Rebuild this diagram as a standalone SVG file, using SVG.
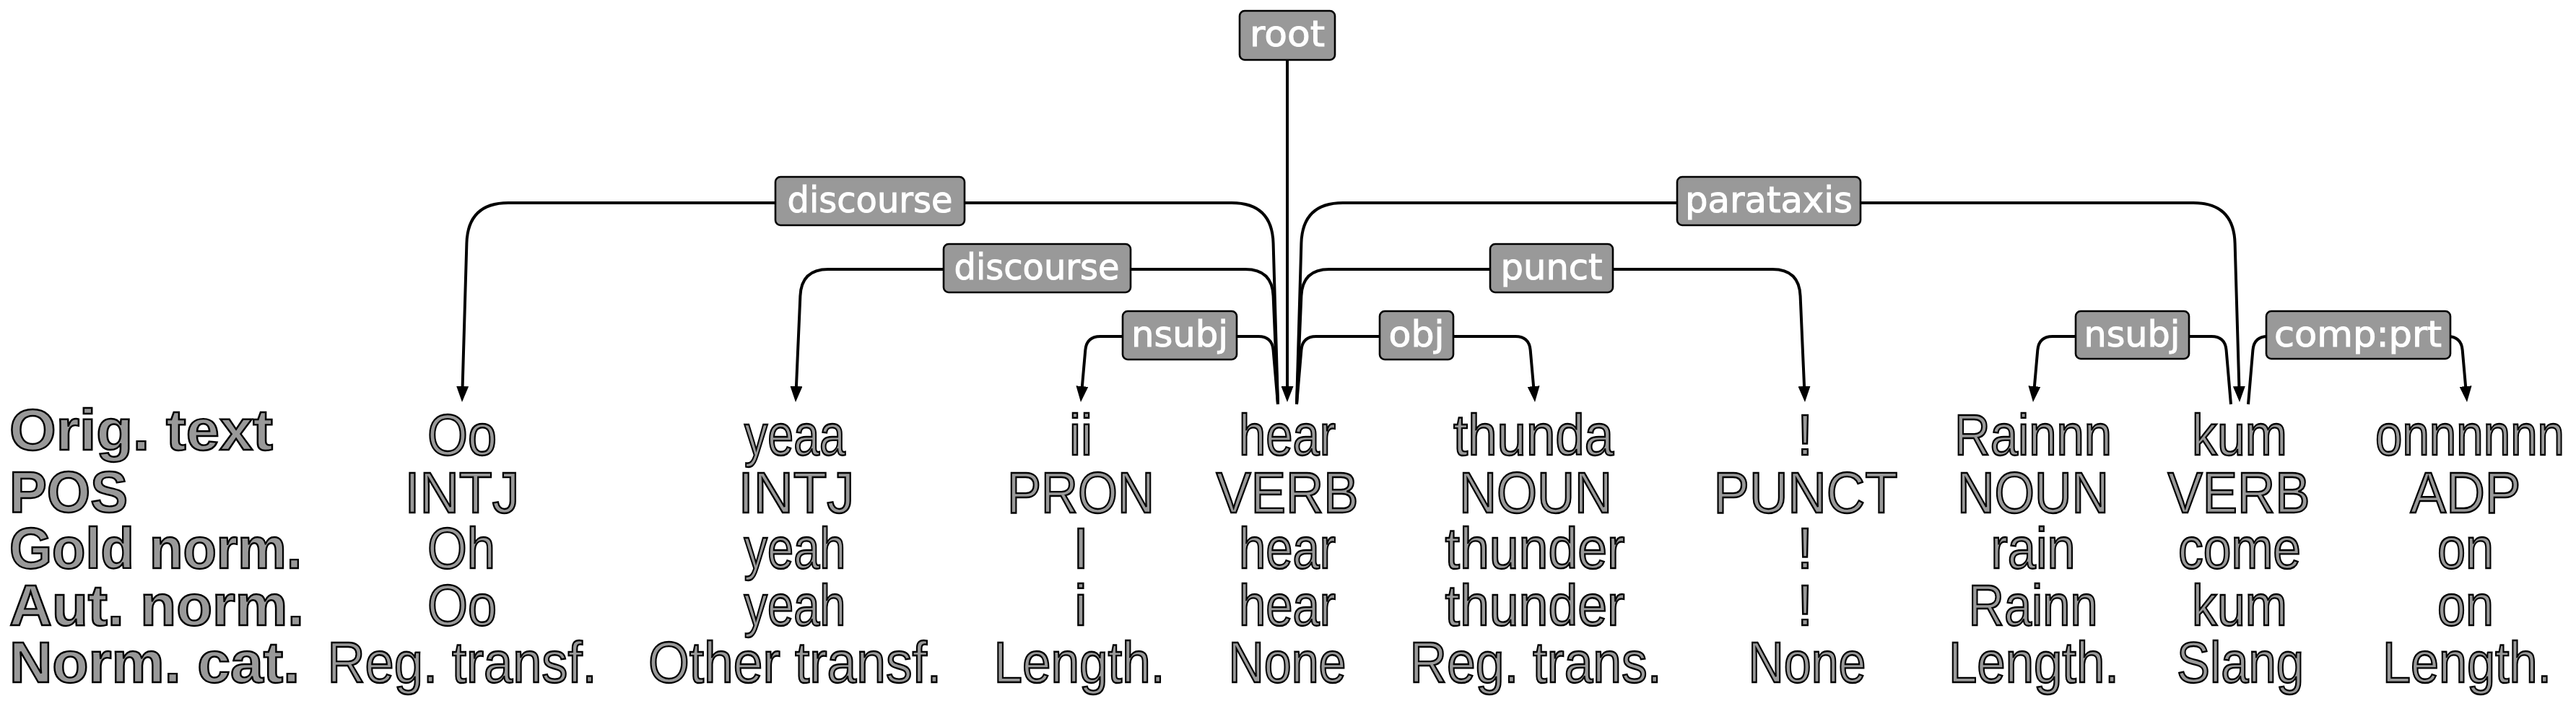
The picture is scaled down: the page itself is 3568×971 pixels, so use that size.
<svg xmlns="http://www.w3.org/2000/svg" width="3568" height="971" viewBox="0 0 3568 971">
<style>
.w{font-family:"Liberation Sans",Arial,sans-serif;font-size:80px;fill:#999999;stroke:#000;stroke-width:2.4;text-anchor:middle}
.rl{font-family:"Liberation Sans",Arial,sans-serif;font-size:79px;font-weight:bold;fill:#999999;stroke:#000;stroke-width:2.4}
.edge{fill:none;stroke:#000;stroke-width:4;marker-end:url(#arr)}
.box{fill:#999999;stroke:#000;stroke-width:2.6}
.lt{font-family:"DejaVu Sans","Liberation Sans",sans-serif;font-size:49px;fill:#fff;stroke:#fff;stroke-width:1;text-anchor:middle}
</style>
<defs>
<marker id="arr" markerUnits="userSpaceOnUse" markerWidth="22" markerHeight="17" refX="8" refY="8.5" orient="auto" viewBox="0 0 22 17"><path d="M0,0 L22,8.5 L0,17 z" fill="#000"/></marker>
</defs>
<rect width="3568" height="971" fill="#fff"/>
<g id="row-labels">
<text class="rl" x="13" y="623" textLength="365" lengthAdjust="spacingAndGlyphs">Orig. text</text>
<text class="rl" x="13" y="709" textLength="164" lengthAdjust="spacingAndGlyphs">POS</text>
<text class="rl" x="13" y="787" textLength="405" lengthAdjust="spacingAndGlyphs">Gold norm.</text>
<text class="rl" x="13" y="866" textLength="408" lengthAdjust="spacingAndGlyphs">Aut. norm.</text>
<text class="rl" x="13" y="945" textLength="402" lengthAdjust="spacingAndGlyphs">Norm. cat.</text>
</g>
<g id="connectors">
<path class="edge" d="M1783,83 L1783,543"/>
<path class="edge" d="M1770,560 L1763.6,337 Q1762,281 1706,281 L704,281 Q648,281 646.4,337 L640.4,543"/>
<path class="edge" d="M1770,560 L1763.6,410 Q1762,373 1725,373 L1147,373 Q1110,373 1108.4,410 L1102.6,543"/>
<path class="edge" d="M1770,560 L1763.6,485 Q1762,466 1743,466 L1524,466 Q1505,466 1503.3,485 L1498.2,543"/>
<path class="edge" d="M1796,560 L1802.4,485 Q1804,466 1823,466 L2099,466 Q2118,466 2119.7,485 L2124.8,543"/>
<path class="edge" d="M1796,560 L1802.4,410 Q1804,373 1841,373 L2455,373 Q2492,373 2493.6,410 L2499.4,543"/>
<path class="edge" d="M1796,560 L1802.4,337 Q1804,281 1860,281 L3038,281 Q3094,281 3095.6,337 L3101.6,543"/>
<path class="edge" d="M3090,560 L3083.6,485 Q3082,466 3063,466 L2843,466 Q2824,466 2822.3,485 L2817.2,543"/>
<path class="edge" d="M3114,560 L3120.4,485 Q3122,466 3141,466 L3390,466 Q3409,466 3410.7,485 L3415.8,543"/>
</g>
<g id="label-root"><rect class="box" x="1717" y="15" width="132" height="68" rx="7"/><text class="lt" x="1783" y="64" textLength="104" lengthAdjust="spacingAndGlyphs">root</text></g>
<g id="label-discourse-1"><rect class="box" x="1074" y="245" width="262" height="67" rx="7"/><text class="lt" x="1205" y="294" textLength="229" lengthAdjust="spacingAndGlyphs">discourse</text></g>
<g id="label-discourse-2"><rect class="box" x="1307" y="338" width="259" height="67" rx="7"/><text class="lt" x="1436" y="387" textLength="229" lengthAdjust="spacingAndGlyphs">discourse</text></g>
<g id="label-nsubj-1"><rect class="box" x="1555" y="431" width="158" height="67" rx="7"/><text class="lt" x="1634" y="480" textLength="134" lengthAdjust="spacingAndGlyphs">nsubj</text></g>
<g id="label-obj"><rect class="box" x="1911" y="431" width="102" height="67" rx="7"/><text class="lt" x="1962" y="480" textLength="77" lengthAdjust="spacingAndGlyphs">obj</text></g>
<g id="label-punct"><rect class="box" x="2064" y="338" width="170" height="67" rx="7"/><text class="lt" x="2149" y="387" textLength="141" lengthAdjust="spacingAndGlyphs">punct</text></g>
<g id="label-parataxis"><rect class="box" x="2323" y="245" width="254" height="67" rx="7"/><text class="lt" x="2450" y="294" textLength="232" lengthAdjust="spacingAndGlyphs">parataxis</text></g>
<g id="label-nsubj-2"><rect class="box" x="2875" y="431" width="157" height="66" rx="7"/><text class="lt" x="2953" y="480" textLength="133" lengthAdjust="spacingAndGlyphs">nsubj</text></g>
<g id="label-compprt"><rect class="box" x="3139" y="431" width="255" height="66" rx="7"/><text class="lt" x="3266" y="480" textLength="232" lengthAdjust="spacingAndGlyphs">comp:prt</text></g>
<g id="tok-Oo">
<text class="w" x="640" y="630" textLength="96" lengthAdjust="spacingAndGlyphs">Oo</text>
<text class="w" x="640" y="710" textLength="159" lengthAdjust="spacingAndGlyphs">INTJ</text>
<text class="w" x="639" y="787" textLength="94" lengthAdjust="spacingAndGlyphs">Oh</text>
<text class="w" x="640" y="866" textLength="96" lengthAdjust="spacingAndGlyphs">Oo</text>
<text class="w" x="640" y="945" textLength="373" lengthAdjust="spacingAndGlyphs">Reg. transf.</text>
</g>
<g id="tok-yeaa">
<text class="w" x="1101" y="630" textLength="140" lengthAdjust="spacingAndGlyphs">yeaa</text>
<text class="w" x="1103" y="710" textLength="161" lengthAdjust="spacingAndGlyphs">INTJ</text>
<text class="w" x="1101" y="787" textLength="141" lengthAdjust="spacingAndGlyphs">yeah</text>
<text class="w" x="1101" y="866" textLength="141" lengthAdjust="spacingAndGlyphs">yeah</text>
<text class="w" x="1101" y="945" textLength="406" lengthAdjust="spacingAndGlyphs">Other transf.</text>
</g>
<g id="tok-ii">
<text class="w" x="1497" y="630" textLength="32" lengthAdjust="spacingAndGlyphs">ii</text>
<text class="w" x="1497" y="710" textLength="204" lengthAdjust="spacingAndGlyphs">PRON</text>
<text class="w" x="1497" y="787">I</text>
<text class="w" x="1497" y="866">i</text>
<text class="w" x="1495" y="945" textLength="237" lengthAdjust="spacingAndGlyphs">Length.</text>
</g>
<g id="tok-hear">
<text class="w" x="1783" y="630" textLength="134" lengthAdjust="spacingAndGlyphs">hear</text>
<text class="w" x="1783" y="710" textLength="197" lengthAdjust="spacingAndGlyphs">VERB</text>
<text class="w" x="1783" y="787" textLength="134" lengthAdjust="spacingAndGlyphs">hear</text>
<text class="w" x="1783" y="866" textLength="134" lengthAdjust="spacingAndGlyphs">hear</text>
<text class="w" x="1783" y="945" textLength="163" lengthAdjust="spacingAndGlyphs">None</text>
</g>
<g id="tok-thunda">
<text class="w" x="2124" y="630" textLength="222" lengthAdjust="spacingAndGlyphs">thunda</text>
<text class="w" x="2127" y="710" textLength="212" lengthAdjust="spacingAndGlyphs">NOUN</text>
<text class="w" x="2126" y="787" textLength="249" lengthAdjust="spacingAndGlyphs">thunder</text>
<text class="w" x="2126" y="866" textLength="249" lengthAdjust="spacingAndGlyphs">thunder</text>
<text class="w" x="2127" y="945" textLength="349" lengthAdjust="spacingAndGlyphs">Reg. trans.</text>
</g>
<g id="tok-excl">
<text class="w" x="2500" y="630">!</text>
<text class="w" x="2501" y="710" textLength="255" lengthAdjust="spacingAndGlyphs">PUNCT</text>
<text class="w" x="2500" y="787">!</text>
<text class="w" x="2500" y="866">!</text>
<text class="w" x="2503" y="945" textLength="163" lengthAdjust="spacingAndGlyphs">None</text>
</g>
<g id="tok-Rainnn">
<text class="w" x="2816" y="630" textLength="218" lengthAdjust="spacingAndGlyphs">Rainnn</text>
<text class="w" x="2816" y="710" textLength="210" lengthAdjust="spacingAndGlyphs">NOUN</text>
<text class="w" x="2816" y="787" textLength="117" lengthAdjust="spacingAndGlyphs">rain</text>
<text class="w" x="2816" y="866" textLength="179" lengthAdjust="spacingAndGlyphs">Rainn</text>
<text class="w" x="2817" y="945" textLength="236" lengthAdjust="spacingAndGlyphs">Length.</text>
</g>
<g id="tok-kum">
<text class="w" x="3102" y="630" textLength="132" lengthAdjust="spacingAndGlyphs">kum</text>
<text class="w" x="3101" y="710" textLength="197" lengthAdjust="spacingAndGlyphs">VERB</text>
<text class="w" x="3102" y="787" textLength="170" lengthAdjust="spacingAndGlyphs">come</text>
<text class="w" x="3102" y="866" textLength="132" lengthAdjust="spacingAndGlyphs">kum</text>
<text class="w" x="3103" y="945" textLength="176" lengthAdjust="spacingAndGlyphs">Slang</text>
</g>
<g id="tok-onnnnnn">
<text class="w" x="3421" y="630" textLength="262" lengthAdjust="spacingAndGlyphs">onnnnnn</text>
<text class="w" x="3415" y="710" textLength="153" lengthAdjust="spacingAndGlyphs">ADP</text>
<text class="w" x="3415" y="787" textLength="78" lengthAdjust="spacingAndGlyphs">on</text>
<text class="w" x="3415" y="866" textLength="78" lengthAdjust="spacingAndGlyphs">on</text>
<text class="w" x="3417" y="945" textLength="234" lengthAdjust="spacingAndGlyphs">Length.</text>
</g>
</svg>
